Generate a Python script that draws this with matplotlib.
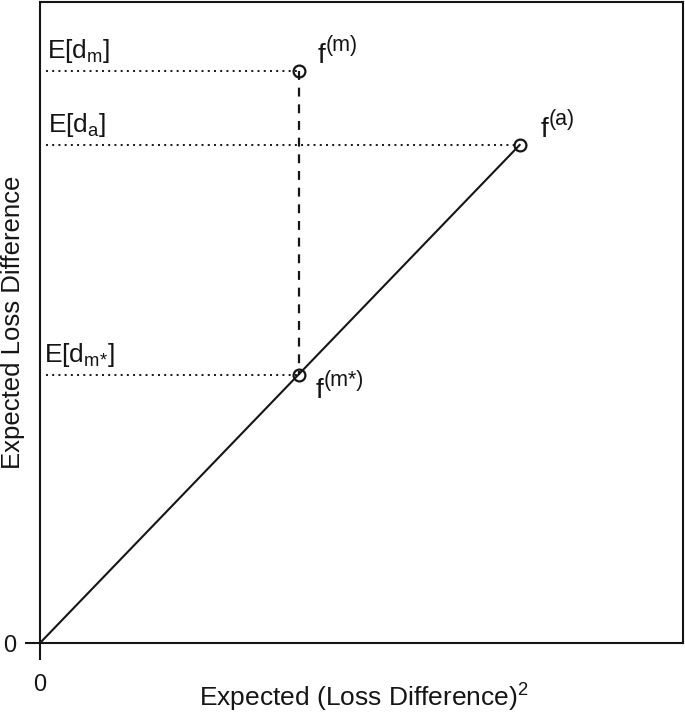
import matplotlib.pyplot as plt
import numpy as np

plt.rcParams['font.family'] = ['Liberation Sans', 'DejaVu Sans']

# point positions (x = E[(loss diff)^2], y = E[loss diff]), unitless
names = ["a", "m", "m*"]
xs = [0.746, 0.403, 0.403]
ys = [0.777, 0.892, 0.418]
ylabels = [r"E[d$_\mathregular{a}$]", r"E[d$_\mathregular{m}$]", r"E[d$_\mathregular{m{*}}$]"]
sups = ["(a)", "(m)", "(m*)"]

W, H = 685, 715
fig = plt.figure(figsize=(W / 100, H / 100), dpi=100)
ax = fig.add_axes([40 / W, 72 / H, 643 / W, 641 / H])
ax.set_xlim(0, 1)
ax.set_ylim(0, 1)
col = "#151515"

# diagonal through origin to f(a)
ax.plot([0, xs[0]], [0, ys[0]], color=col, lw=1.5)
# dashed vertical from f(m) to f(m*)
ax.plot([xs[1], xs[2]], [ys[1], ys[2]], color=col, lw=1.6, ls=(0, (4, 3.5)))

# label spots: (left x, baseline y) in axes units
lab_pos = [(0.012, 0.797), (0.011, 0.913), (0.006, 0.438)]
f_pos = [(0.778, 0.789), (0.432, 0.905), (0.428, 0.382)]
for i in range(3):
    ax.plot([0.009, xs[i]], [ys[i], ys[i]], color=col, lw=1.4, ls=(0, (1, 2.2)))
    ax.text(lab_pos[i][0], lab_pos[i][1], ylabels[i], fontsize=19,
            ha="left", va="baseline", color=col)
    ax.text(f_pos[i][0], f_pos[i][1], "f", fontsize=20,
            ha="left", va="baseline", color=col)
    ax.annotate(sups[i], f_pos[i], xytext=(5.8, 8.5), textcoords="offset points",
                fontsize=15.5, ha="left", va="baseline", color=col)
ax.plot(xs, ys, "o", ms=8.5, mfc="none", mec=col, mew=1.6, ls="none")

ax.set_xticks([0])
ax.set_yticks([0])
ax.tick_params(axis="x", length=12, width=1.5, labelsize=17, pad=10, color=col, labelcolor=col)
ax.tick_params(axis="y", length=11, width=1.5, labelsize=17, pad=6, color=col, labelcolor=col)
for s in ax.spines.values():
    s.set_linewidth(1.5)
    s.set_color(col)

fig.text(364 / W, (H - 706) / H, r"Expected (Loss Difference)$^\mathregular{2}$",
         fontsize=19, ha="center", va="baseline", color=col)
fig.text(13 / W, (H - 322) / H, "Expected Loss Difference", fontsize=18.5,
         rotation=90, ha="center", va="center", color=col)

plt.savefig("out.png", dpi=100)
